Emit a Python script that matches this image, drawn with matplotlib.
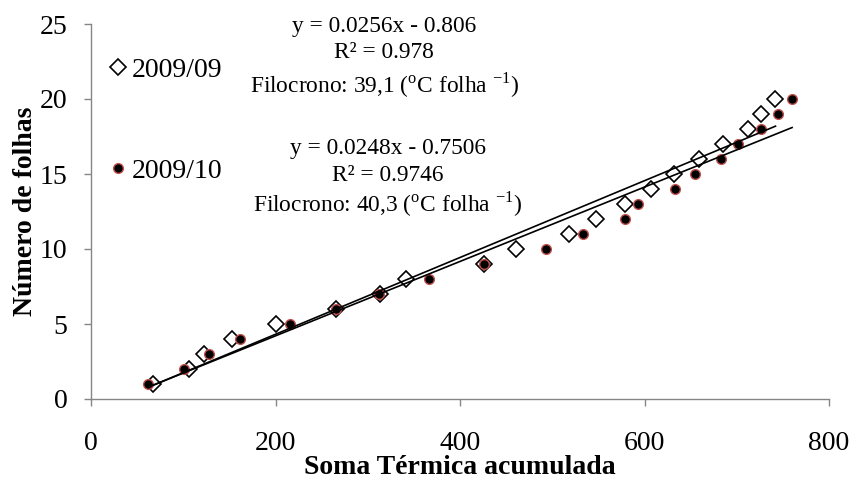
import matplotlib
matplotlib.use("Agg")
import matplotlib.pyplot as plt
import numpy as np

plt.rcParams['font.family'] = ['Liberation Serif', 'DejaVu Serif']
plt.rcParams['mathtext.fontset'] = 'custom'
plt.rcParams['mathtext.rm'] = 'Liberation Serif'

# folhas (numero) e soma termica de cada safra
folhas = np.arange(1, 21)
soma_0909 = np.array([67, 106, 122, 153, 201, 266, 313, 341, 426, 461,
                      518, 547, 579, 607, 632, 659, 685, 712, 726, 742])
soma_0910 = np.array([62, 101, 128, 162, 216, 266, 312, 366, 426, 493,
                      533, 579, 593, 633, 655, 683, 701, 726, 745, 760])

# coeficientes das linhas de tendencia (do grafico)
coef_0909 = (0.0256, -0.806)
coef_0910 = (0.0248, -0.7506)

xticks = [0, 200, 400, 600, 800]
yticks = [0, 5, 10, 15, 20, 25]

gray = '#868686'
red = '#c0504d'

fig = plt.figure(figsize=(8.52, 4.8), dpi=100)
ax = fig.add_axes([91/852, 1-399/480, 738/852, 375/480])

ax.plot(soma_0909, folhas, linestyle='none', marker='D', markersize=8,
        markerfacecolor='white', markeredgecolor='black', markeredgewidth=1.2,
        label='2009/09', zorder=3)
ax.plot(soma_0910, folhas, linestyle='none', marker='o', markersize=7,
        markerfacecolor='black', markeredgecolor=red, markeredgewidth=1.0,
        label='2009/10', zorder=4)

for xs, (a, b) in [(soma_0909, coef_0909), (soma_0910, coef_0910)]:
    xl = np.array([xs.min(), xs.max()])
    ax.plot(xl, a*xl + b, color='black', linewidth=1.2, zorder=5)

ax.set_xlim(0, 800)
ax.set_ylim(0, 25)
ax.set_xticks(xticks)
ax.set_yticks(yticks)
for s in ['top', 'right']:
    ax.spines[s].set_visible(False)
for s in ['left', 'bottom']:
    ax.spines[s].set_color(gray)
    ax.spines[s].set_linewidth(1.0)
ax.tick_params(axis='both', direction='out', length=5, width=1.0,
               color=gray, labelsize=20)
ax.tick_params(axis='x', pad=18)
ax.tick_params(axis='y', pad=12)

ax.set_xlabel('Soma Térmica acumulada', fontsize=20, fontweight='bold')
ax.set_ylabel('Número de folhas', fontsize=20, fontweight='bold')
ax.xaxis.set_label_coords(0.5, -0.15)
ax.yaxis.set_label_coords(-0.072, 0.5)

txt = dict(fontsize=16.8, ha='center', va='center')
ax.text(318, 24.85, 'y = 0.0256x - 0.806', **txt)
ax.text(318, 23.1, 'R² = 0.978', **txt)
ax.text(318, 20.9, r'Filocrono: 39,1 ($^{\mathrm{o}}$C folha $^{\mathrm{-1}}$)', **txt)
ax.text(322, 16.67, 'y = 0.0248x - 0.7506', **txt)
ax.text(322, 14.93, 'R² = 0.9746', **txt)
ax.text(322, 13.0, r'Filocrono: 40,3 ($^{\mathrm{o}}$C folha $^{\mathrm{-1}}$)', **txt)

ax.legend(loc='upper left', bbox_to_anchor=(0.027, 0.91), frameon=False,
          fontsize=20, handlelength=0.5, handletextpad=0.25,
          labelspacing=2.7, borderpad=0, borderaxespad=0)

fig.savefig('out.png', dpi=100)
